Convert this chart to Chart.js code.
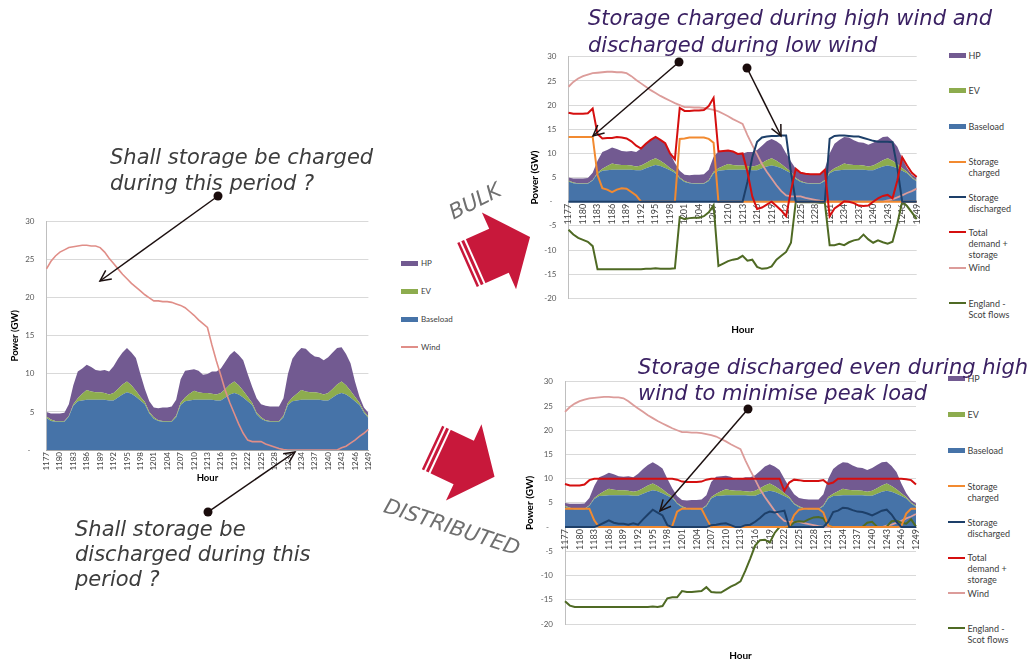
<!DOCTYPE html>
<html>
<head>
<meta charset="utf-8">
<title>Storage: bulk vs distributed</title>
<script src="https://cdn.jsdelivr.net/npm/chart.js@4.4.1/dist/chart.umd.min.js"></script>
<style>
  html, body { margin: 0; padding: 0; background: #fff; }
  #page { position: relative; width: 1030px; height: 664px; overflow: hidden; }
  #page canvas { position: absolute; }
  .note { position: absolute; margin: 0; white-space: pre; font-family: "DejaVu Sans", Verdana, sans-serif; font-style: italic; font-size: 21px; }
  .note.grey { color: #3d3d3d; }
  .note.purple { color: #3b2163; }
  .legend { position: absolute; left: 0; top: 0; font-family: Lato, "Liberation Sans", sans-serif; color: #404040; }
  .legend .sw { position: absolute; }
  .legend .tx { position: absolute; white-space: pre; }
  #overlay { position: absolute; left: 0; top: 0; }
</style>
</head>
<body>
<div id="page">
  <canvas id="leftChart" width="380" height="290" style="left:0;top:200px"></canvas>
  <canvas id="bulkChart" width="405" height="300" style="left:525px;top:40px"></canvas>
  <canvas id="distChart" width="410" height="299" style="left:520px;top:365px"></canvas>
  <div id="legendLeft" class="legend"></div>
  <div id="legendBulk" class="legend"></div>
  <div id="legendDist" class="legend"></div>
  <svg id="overlay" width="1030" height="664" xmlns="http://www.w3.org/2000/svg">
    <g transform="translate(467,265) rotate(-24)">
      <polygon points="0,-24 35,-24 35,-42 69,0 35,42 35,24 0,24" fill="#c8183b"/>
      <line x1="3.5" y1="-26" x2="3.5" y2="26" stroke="#fff" stroke-width="2"/>
      <line x1="8.5" y1="-26" x2="8.5" y2="26" stroke="#fff" stroke-width="2"/>
    </g>
    <g transform="translate(432,447.6) rotate(25)">
      <polygon points="0,-24 35,-24 35,-42 69,0 35,42 35,24 0,24" fill="#c8183b"/>
      <line x1="3.5" y1="-26" x2="3.5" y2="26" stroke="#fff" stroke-width="2"/>
      <line x1="8.5" y1="-26" x2="8.5" y2="26" stroke="#fff" stroke-width="2"/>
    </g>
    <text transform="translate(475,201) rotate(-27)" text-anchor="middle" dominant-baseline="central"
          font-family="DejaVu Sans, Verdana, sans-serif" font-style="italic" font-size="21" fill="#6f6f6f">BULK</text>
    <text transform="translate(452,527) rotate(18)" text-anchor="middle" dominant-baseline="central"
          font-family="DejaVu Sans, Verdana, sans-serif" font-style="italic" font-size="21" fill="#6f6f6f">DISTRIBUTED</text>
    <g id="pointers"></g>
  </svg>
  <div class="note grey" style="left:110px;top:144px;line-height:26px">Shall storage be charged
during this period ?</div>
  <div class="note grey" style="left:75px;top:517px;line-height:25px">Shall storage be
discharged during this
period ?</div>
  <div class="note purple" style="left:588px;top:5px;line-height:26.5px">Storage charged during high wind and
discharged during low wind</div>
  <div class="note purple" style="left:638px;top:354px;line-height:26px">Storage discharged even during high
wind to minimise peak load</div>
</div>

<script>
// hour of the year, x categories
const hours = [
  1177, 1178, 1179, 1180, 1181, 1182, 1183, 1184, 1185, 1186, 1187, 1188,
  1189, 1190, 1191, 1192, 1193, 1194, 1195, 1196, 1197, 1198, 1199, 1200,
  1201, 1202, 1203, 1204, 1205, 1206, 1207, 1208, 1209, 1210, 1211, 1212,
  1213, 1214, 1215, 1216, 1217, 1218, 1219, 1220, 1221, 1222, 1223, 1224,
  1225, 1226, 1227, 1228, 1229, 1230, 1231, 1232, 1233, 1234, 1235, 1236,
  1237, 1238, 1239, 1240, 1241, 1242, 1243, 1244, 1245, 1246, 1247, 1248,
  1249
];

// demand layers (GW), stacked: baseload, then EV, then HP on top
const baseload = [
  4.2, 3.8, 3.7, 3.7, 3.7, 4.4, 5.8, 6.4, 6.5, 6.6, 6.6, 6.6,
  6.6, 6.6, 6.5, 6.5, 6.9, 7.3, 7.6, 7.4, 7.0, 6.5, 6.0, 4.8,
  4.1, 3.8, 3.7, 3.7, 3.7, 4.3, 5.9, 6.4, 6.5, 6.6, 6.6, 6.6,
  6.6, 6.6, 6.5, 6.5, 6.9, 7.3, 7.5, 7.3, 6.9, 6.4, 5.9, 4.7,
  4.1, 3.8, 3.7, 3.7, 3.7, 4.3, 5.9, 6.4, 6.5, 6.6, 6.6, 6.6,
  6.6, 6.6, 6.5, 6.5, 6.9, 7.3, 7.5, 7.3, 6.9, 6.4, 5.9, 4.9,
  4.2
];
const ev = [
  0.2, 0.2, 0.1, 0.1, 0.1, 0.1, 0.2, 0.4, 0.9, 1.3, 1.1, 1.0,
  1.0, 0.9, 0.8, 1.0, 1.1, 1.3, 1.4, 1.1, 0.8, 0.5, 0.3, 0.2,
  0.2, 0.1, 0.1, 0.1, 0.1, 0.2, 0.3, 0.5, 0.9, 1.2, 1.0, 0.9,
  0.9, 0.8, 0.8, 1.0, 1.1, 1.3, 1.5, 1.2, 0.9, 0.6, 0.3, 0.2,
  0.2, 0.1, 0.1, 0.1, 0.1, 0.2, 0.3, 0.5, 0.9, 1.3, 1.1, 1.0,
  1.0, 0.9, 0.8, 1.0, 1.1, 1.3, 1.5, 1.2, 0.9, 0.6, 0.3, 0.2,
  0.2
];
const hp = [
  0.6, 0.8, 1.0, 1.0, 1.1, 1.5, 2.5, 3.5, 3.3, 3.3, 3.2, 2.9,
  2.8, 3.0, 3.0, 3.5, 4.0, 4.2, 4.4, 4.3, 4.3, 3.0, 1.7, 1.4,
  1.3, 1.6, 1.8, 1.8, 1.9, 2.1, 3.1, 3.5, 3.1, 2.8, 2.8, 2.4,
  2.5, 2.9, 3.0, 3.2, 3.6, 3.9, 4.0, 4.0, 4.0, 3.0, 2.1, 1.9,
  1.7, 1.9, 1.9, 1.9, 1.9, 2.3, 3.8, 5.1, 5.4, 5.5, 5.6, 5.1,
  4.7, 4.7, 4.5, 4.7, 4.8, 4.8, 4.5, 4.1, 3.6, 2.0, 0.8, 0.5,
  0.5
];
const wind = [
  23.8, 24.8, 25.5, 26.0, 26.3, 26.6, 26.7, 26.8, 26.9, 26.9, 26.8, 26.8,
  26.6, 26.0, 25.2, 24.5, 23.8, 23.1, 22.5, 21.9, 21.4, 20.9, 20.4, 20.0,
  19.6, 19.6, 19.5, 19.5, 19.4, 19.2, 19.0, 18.7, 18.2, 17.7, 17.1, 16.6,
  16.1, 13.8, 11.7, 9.8, 7.8, 6.2, 4.8, 3.4, 2.2, 1.3, 1.1, 1.1,
  1.1, 0.8, 0.6, 0.4, 0.2, 0.05, 0, 0, 0, 0, 0, 0,
  0, 0, 0, 0, 0, 0, 0.3, 0.5, 0.9, 1.3, 1.8, 2.2,
  2.7
];

// bulk storage case
const bulkCharged = [
  13.4, 13.4, 13.4, 13.4, 13.4, 13.4, 5.5, 2.8, 2.5, 2.0, 2.5, 2.8,
  2.7, 2.0, 1.3, 0, 0, 0, 0, 0, 0, 0, 0, 13.0,
  13.1, 13.3, 13.3, 13.3, 13.3, 13.0, 12.2, 0, 0, 0, 0, 0,
  0, 0, 0, 0, 0, 0, 0, 0, 0, 0, 0, 0,
  0, 0, 0, 0, 0, 0, 0, 0, 0, 0, 0, 0,
  0, 0, 0, 0, 0, 0, 0, 0, 0, 0, 0, 0,
  0
];
const bulkDischarged = [
  0, 0, 0, 0, 0, 0, 0, 0, 0, 0, 0, 0,
  0, 0, 0, 0, 0, 0, 0, 0, 0, 0, 0, 0,
  0, 0, 0, 0, 0, 0, 0, 0, 0, 0, 0, 0,
  0, 4.1, 9.2, 12.4, 13.3, 13.5, 13.6, 13.6, 13.7, 13.7, 6.0, 0,
  0, 0, 0, 0, 0, 0, 13.0, 13.6, 13.7, 13.7, 13.6, 13.5,
  13.5, 13.2, 12.9, 12.6, 12.4, 12.4, 12.4, 12.3, 7.0, 0, 0, 0,
  0
];
const bulkTotal = [
  18.4, 18.2, 18.2, 18.2, 18.3, 19.3, 14.0, 13.1, 13.2, 13.2, 13.4, 13.3,
  13.1, 12.5, 11.6, 11.0, 12.0, 12.8, 13.4, 12.8, 12.1, 10.0, 8.8, 19.4,
  18.8, 18.8, 18.9, 18.9, 19.0, 19.8, 21.5, 10.4, 10.5, 10.6, 10.4, 9.9,
  10.0, 6.2, 1.1, -1.5, -1.2, -0.6, 0.0, -0.9, -1.8, -3.0, 2.3, 6.8,
  6.0, 5.8, 5.7, 5.7, 5.7, 6.6, -3.0, -1.4, -0.7, 0.1, 0.0, -0.3,
  -0.8, -0.9, -0.8, 0.0, 0.7, 1.2, 1.4, 0.7, 4.4, 9.2, 7.5, 6.0,
  5.1
];
const bulkFlows = [
  -5.8, -6.8, -7.5, -7.9, -8.3, -9.2, -14.0, -14.0, -14.0, -14.0, -14.0, -14.0,
  -14.0, -14.0, -14.0, -14.0, -13.9, -13.9, -13.8, -13.9, -13.9, -13.9, -13.8, -3.2,
  -3.6, -3.4, -3.3, -3.3, -3.0, -2.2, -0.7, -13.3, -12.8, -12.3, -12.0, -11.8,
  -11.2, -12.2, -12.0, -13.5, -13.9, -13.8, -13.4, -12.0, -11.2, -10.4, -8.5, 0,
  -0.1, -0.1, -0.1, -0.1, -0.2, -0.2, -9.0, -9.0, -8.7, -9.0, -8.4, -8.0,
  -7.8, -6.8, -7.8, -8.5, -8.0, -8.4, -8.7, -8.3, -4.5, 0, -0.9, -2.2,
  -3.6
];

// distributed storage case
const distCharged = [
  3.8, 3.8, 3.8, 3.8, 3.8, 3.8, 1.4, 0, 0, 0, 0, 0,
  0, 0, 0, 0, 0, 0, 0, 0, 0, 0, 0.2, 3.2,
  3.8, 3.8, 3.8, 3.8, 3.8, 1.8, 0, 0, 0, 0, 0, 0,
  0, 0, 0, 0, 0, 0, 0, 0, 0, 0, 0.2, 2.5,
  3.6, 3.8, 3.8, 3.8, 3.8, 3.0, 0.3, 0, 0, 0, 0, 0,
  0, 0, 0, 0, 0, 0, 0, 0, 0, 0.2, 2.8, 3.8,
  3.8
];
const distDischarged = [
  0, 0, 0, 0, 0, 0, 0, 0.4, 0.9, 1.4, 0.9, 0.7,
  0.7, 0.5, 0.8, 0.5, 1.6, 2.6, 3.6, 3.0, 2.4, 0.4, 0, 0,
  0, 0, 0, 0, 0, 0, 0.4, 0.5, 0.7, 0.8, 0.4, 0,
  0, 0.4, 0.5, 1.1, 1.9, 2.8, 3.2, 3.0, 3.2, 3.4, 0, 0,
  0, 0, 0, 0, 0, 0, 1.1, 3.1, 3.4, 4.0, 3.9, 3.5,
  3.2, 3.1, 2.8, 2.4, 2.9, 3.4, 3.6, 2.6, 1.1, 0, 0, 0,
  0
];
const distTotal = [
  8.9, 8.6, 8.6, 8.6, 8.8, 9.7, 10.0, 10.0, 10.0, 10.0, 10.0, 10.0,
  10.0, 10.0, 10.0, 10.0, 10.0, 10.0, 10.0, 10.0, 10.0, 10.0, 10.0, 9.8,
  9.4, 9.3, 9.3, 9.3, 9.4, 9.8, 10.0, 10.0, 10.0, 10.0, 10.0, 10.0,
  10.0, 10.0, 10.0, 10.0, 10.0, 10.0, 10.0, 10.0, 10.0, 7.5, 9.2, 9.8,
  9.7, 9.5, 9.5, 9.5, 9.5, 9.7, 8.9, 9.2, 10.0, 10.0, 10.0, 10.0,
  10.0, 10.0, 10.0, 10.0, 10.0, 10.0, 10.0, 10.0, 10.0, 10.0, 9.9, 9.7,
  8.8
];
const distFlows = [
  -15.3, -16.2, -16.5, -16.5, -16.5, -16.5, -16.5, -16.5, -16.5, -16.5, -16.5, -16.5,
  -16.5, -16.5, -16.5, -16.5, -16.5, -16.5, -16.4, -16.5, -16.3, -14.7, -14.5, -14.5,
  -13.2, -13.4, -13.4, -13.3, -13.2, -12.4, -13.4, -13.5, -13.5, -12.9, -12.3, -11.8,
  -11.2, -9.0, -6.5, -3.8, -2.7, -2.6, -3.2, -1.2, 0, 0, 0, 1.0,
  1.2, 1.1, 1.6, 2.0, 2.1, 1.8, 0.3, 0, 0, 0, 0, 0,
  0, 0, 0.9, 1.1, 0.1, 0, 0.1, 1.2, 1.3, 0.9, 0.7, 1.6,
  0.1
];

const colors = {
  hp: '#725a91',
  ev: '#8dac4e',
  base: '#4673a8',
  windLeft: '#e08e88',
  wind: '#dc9c9a',
  charged: '#f28a30',
  discharged: '#1d3f69',
  total: '#d50f0f',
  flows: '#4f6a24'
};

Chart.defaults.font.family = 'Lato, "Liberation Sans", Arial, sans-serif';
Chart.defaults.color = '#404040';

function areaSeries(label, data, color, fill) {
  return {
    label: label, data: data, backgroundColor: color, borderColor: color,
    borderWidth: 0, fill: fill, pointRadius: 0, tension: 0, stack: 'demand', order: 10
  };
}

function lineSeries(label, data, color, width, order) {
  return {
    label: label, data: data, borderColor: color, backgroundColor: color,
    borderWidth: width, fill: false, pointRadius: 0, tension: 0, stack: label, order: order
  };
}

function hourTick(value, index) {
  return index % 3 === 0 ? String(hours[index]) : '';
}

function powerTick(value) {
  return value === 0 ? '-  ' : String(value);
}

function buildOptions(cfg) {
  const hourTitle = {
    display: true, text: 'Hour', color: '#000',
    font: { size: cfg.titleSize, weight: 'bold' },
    padding: { top: 0, bottom: cfg.xTitlePad }
  };
  const xTicks = {
    autoSkip: false, minRotation: 90, maxRotation: 90, padding: 2,
    color: '#404040', font: { size: cfg.xTickSize }, callback: hourTick
  };
  const scales = {
    y: {
      stacked: true, min: cfg.yMin, max: cfg.yMax,
      ticks: { stepSize: 5, padding: 12, color: '#595959', font: { size: 8 }, callback: powerTick },
      grid: { color: '#d9d9d9', drawTicks: false },
      border: { display: true, color: '#bfbfbf' },
      title: {
        display: true, text: 'Power (GW)', color: '#000',
        font: { size: cfg.titleSize, weight: 'bold' },
        padding: { top: cfg.yTitlePad, bottom: 0 }
      },
      afterFit: function (scale) { scale.width = cfg.yWidth; }
    }
  };

  if (cfg.axisAtZero) {
    scales.x = {
      position: { y: 0 },
      grid: { display: false, drawTicks: false },
      border: { display: true, color: '#a6a6a6' },
      ticks: xTicks
    };
    scales.hourAxis = {
      type: 'category', axis: 'x', position: 'bottom',
      grid: { display: false, drawTicks: false },
      border: { display: false },
      ticks: { display: false },
      title: hourTitle,
      afterFit: function (scale) { scale.height = cfg.xHeight; }
    };
  } else {
    scales.x = {
      grid: { display: false, drawTicks: false },
      border: { display: true, color: '#a6a6a6' },
      ticks: xTicks,
      title: hourTitle,
      afterFit: function (scale) { scale.height = cfg.xHeight; }
    };
  }

  return {
    responsive: false,
    animation: false,
    events: [],
    layout: { padding: cfg.padding },
    plugins: { legend: { display: false }, tooltip: { enabled: false } },
    scales: scales
  };
}

function demandLayers() {
  return [
    areaSeries('Baseload', baseload, colors.base, 'origin'),
    areaSeries('EV', ev, colors.ev, '-1'),
    areaSeries('HP', hp, colors.hp, '-1')
  ];
}

new Chart(document.getElementById('leftChart'), {
  type: 'line',
  data: {
    labels: hours,
    datasets: demandLayers().concat([
      lineSeries('Wind', wind, colors.windLeft, 1.6, 1)
    ])
  },
  options: buildOptions({
    yMin: 0, yMax: 30, yWidth: 46.5, xHeight: 40, xTickSize: 8, titleSize: 9.5,
    yTitlePad: 9.3, xTitlePad: 6.3, axisAtZero: false,
    padding: { left: 0, right: 10, top: 21.7, bottom: 0 }
  })
});

function storageChart(canvasId, charged, discharged, total, flows, cfg) {
  return new Chart(document.getElementById(canvasId), {
    type: 'line',
    data: {
      labels: hours,
      datasets: demandLayers().concat([
        lineSeries('Storage charged', charged, colors.charged, 2, 3),
        lineSeries('Storage discharged', discharged, colors.discharged, 2, 2),
        lineSeries('Total demand + storage', total, colors.total, 2, 1),
        lineSeries('Wind', wind, colors.wind, 1.8, 5),
        lineSeries('England - Scot flows', flows, colors.flows, 2, 4)
      ])
    },
    options: buildOptions(cfg)
  });
}

storageChart('bulkChart', bulkCharged, bulkDischarged, bulkTotal, bulkFlows, {
  yMin: -20, yMax: 30, yWidth: 43.5, xHeight: 41.7, xTickSize: 9, titleSize: 10,
  yTitlePad: 4, xTitlePad: 4, axisAtZero: true,
  padding: { left: 0, right: 13.3, top: 12.7, bottom: 0 }
});

storageChart('distChart', distCharged, distDischarged, distTotal, distFlows, {
  yMin: -20, yMax: 30, yWidth: 45, xHeight: 40, xTickSize: 9, titleSize: 10,
  yTitlePad: 4, xTitlePad: 2, axisAtZero: true,
  padding: { left: 0, right: 14, top: 12.3, bottom: 0 }
});

// legends (html, Excel-like spacing)
const leftLegendNames = ['HP', 'EV', 'Baseload', 'Wind'];
const leftLegendColors = [colors.hp, colors.ev, colors.base, colors.windLeft];
const leftLegendKinds = ['area', 'area', 'area', 'line'];
const rightLegendNames = ['HP', 'EV', 'Baseload', 'Storage\ncharged', 'Storage\ndischarged',
  'Total\ndemand +\nstorage', 'Wind', 'England -\nScot flows'];
const rightLegendColors = [colors.hp, colors.ev, colors.base, colors.charged, colors.discharged,
  colors.total, colors.wind, colors.flows];
const rightLegendKinds = ['area', 'area', 'area', 'line', 'line', 'line', 'line', 'line'];

function buildLegend(el, names, swatchColors, kinds, rows, x, fontSize, lineHeight) {
  names.forEach(function (name, i) {
    const h = kinds[i] === 'area' ? 5 : 2;
    const sw = document.createElement('div');
    sw.className = 'sw';
    sw.style.left = x + 'px';
    sw.style.top = (rows[i] - h / 2) + 'px';
    sw.style.width = '17px';
    sw.style.height = h + 'px';
    sw.style.background = swatchColors[i];
    el.appendChild(sw);

    const tx = document.createElement('div');
    tx.className = 'tx';
    tx.style.left = (x + 20) + 'px';
    tx.style.top = (rows[i] - lineHeight / 2) + 'px';
    tx.style.fontSize = fontSize + 'px';
    tx.style.lineHeight = lineHeight + 'px';
    tx.textContent = name;
    el.appendChild(tx);
  });
}

buildLegend(document.getElementById('legendLeft'), leftLegendNames, leftLegendColors, leftLegendKinds,
  [263.3, 291, 319, 346.7], 401, 8, 10);
buildLegend(document.getElementById('legendBulk'), rightLegendNames, rightLegendColors, rightLegendKinds,
  [55, 90.7, 126, 161.7, 197, 232.3, 267.7, 303], 948.5, 9, 11);
buildLegend(document.getElementById('legendDist'), rightLegendNames, rightLegendColors, rightLegendKinds,
  [378.3, 414.3, 450.3, 486.3, 522, 557.7, 593, 628.3], 947.5, 9, 11);

// pointer arrows: dot at the start, open head at the end
const pointers = [
  [218, 196, 100, 281],
  [208, 512, 295, 452],
  [679, 62, 593, 136],
  [747, 68, 781, 136],
  [748, 409, 660, 511]
];

function drawPointers() {
  const g = document.getElementById('pointers');
  let html = '';
  pointers.forEach(function (p) {
    const ang = Math.atan2(p[3] - p[1], p[2] - p[0]);
    const len = 12;
    const spread = 0.45;
    const ax = p[2] - len * Math.cos(ang - spread);
    const ay = p[3] - len * Math.sin(ang - spread);
    const bx = p[2] - len * Math.cos(ang + spread);
    const by = p[3] - len * Math.sin(ang + spread);
    html += '<line x1="' + p[0] + '" y1="' + p[1] + '" x2="' + p[2] + '" y2="' + p[3] + '" />'
      + '<polyline points="' + ax + ',' + ay + ' ' + p[2] + ',' + p[3] + ' ' + bx + ',' + by + '" />'
      + '<circle cx="' + p[0] + '" cy="' + p[1] + '" r="4.5" fill="#1a0c0c" stroke="none" />';
  });
  g.setAttribute('stroke', '#1c1010');
  g.setAttribute('stroke-width', '1.5');
  g.setAttribute('fill', 'none');
  g.innerHTML = html;
}

drawPointers();
</script>
</body>
</html>
